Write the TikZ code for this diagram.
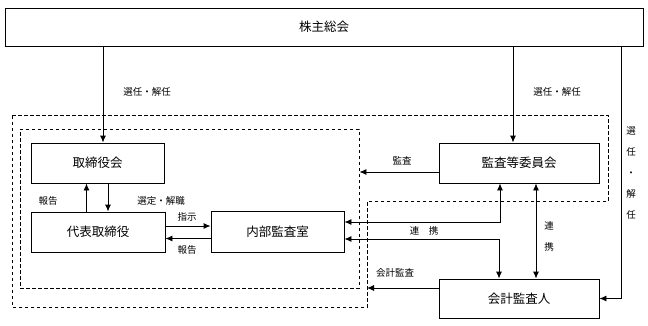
\documentclass[tikz,border=0pt]{standalone}
\usepackage{fontspec}
\setmainfont{Noto Sans CJK JP}
\usetikzlibrary{arrows.meta}
\begin{document}
\begin{tikzpicture}[x=1pt,y=-1pt,
  box/.style={draw,line width=0.9pt,inner sep=0pt,font=\fontsize{12.5}{14}\selectfont},
  lbl/.style={inner sep=0pt,font=\fontsize{9.5}{11}\selectfont},
  vlbl/.style={inner sep=0pt,align=center,font=\fontsize{9.5}{21}\selectfont},
  dashline/.style={draw,line width=0.9pt,dash pattern=on 3.5pt off 2.5pt},
  conn/.style={line width=0.9pt},
  arr/.style={conn,-{Latex[length=7pt,width=6pt]}},
  darr/.style={conn,{Latex[length=7pt,width=6pt]}-{Latex[length=7pt,width=6pt]}}]
\useasboundingbox (0,0) rectangle (648,325);
% dashed regions
\coordinate (o1) at (12,115);
\coordinate (o2) at (608,115);
\coordinate (o3) at (608,201);
\coordinate (ostep) at (367,201);
\coordinate (o5) at (367,307);
\coordinate (o6) at (12,307);
\draw[dashline] (o1) -- (o2) -- (o3) -- (ostep) -- (o5) -- (o6) -- cycle;
\node[dashline,minimum width=339pt,minimum height=159pt,inner sep=0pt] (inner) at (189.5,208.5) {};
% boxes
\node[box,minimum width=638pt,minimum height=38pt] (kabu) at (324,27) {株主総会};
\node[box,minimum width=133pt,minimum height=40pt] (tori) at (97.5,163) {取締役会};
\node[box,minimum width=134pt,minimum height=40pt] (daihyo) at (98,232) {代表取締役};
\node[box,minimum width=133pt,minimum height=41pt] (naibu) at (277.5,231.5) {内部監査室};
\node[box,minimum width=160pt,minimum height=40pt] (kansa) at (519,163) {監査等委員会};
\node[box,minimum width=160pt,minimum height=39pt] (kaikei) at (519,298.5) {会計監査人};
% helper x positions
\coordinate (xl) at (103,0);
\coordinate (xm) at (513,0);
\coordinate (xr) at (621,0);
% connectors
\draw[arr] (kabu.south -| xl) -- (tori.north -| xl);
\draw[arr] (kabu.south -| xm) -- (kansa.north -| xm);
\draw[arr] (kabu.south -| xr) |- (kaikei.east);
\draw[arr] ([xshift=-11.5pt]daihyo.north) -- ([xshift=-11.5pt]daihyo.north |- tori.south);
\draw[arr] ([xshift=10.5pt]tori.south) -- ([xshift=10.5pt]tori.south |- daihyo.north);
\draw[arr] ([yshift=6pt]daihyo.east) -- ([yshift=6pt]daihyo.east -| naibu.west);
\draw[arr] ([yshift=-7pt]naibu.west) -- ([yshift=-7pt]naibu.west -| daihyo.east);
\draw[arr] ([yshift=-9pt]kansa.west) -- ([yshift=-9pt]kansa.west -| inner.east);
\draw[darr] ([yshift=9.5pt]naibu.east) -| ([xshift=-19pt]kansa.south);
\draw[darr] ([yshift=-7.5pt]naibu.east) -| ([xshift=-20pt]kaikei.north);
\draw[darr] ([xshift=17pt]kansa.south) -- ([xshift=17pt]kaikei.north);
\draw[arr] ([yshift=10.5pt]kaikei.west) -- ([yshift=10.5pt]kaikei.west -| ostep);
% labels
\node[lbl] (l1) at (147,92) {選任・解任};
\node[lbl] (l2) at (557,92) {選任・解任};
\node[vlbl] (l3) at (631,173) {選\\任\\・\\解\\任};
\node[lbl] (l4) at (48,201) {報告};
\node[lbl] (l5) at (161,201) {選定・解職};
\node[lbl] (l6) at (187,217) {指示};
\node[lbl] (l7) at (187,250) {報告};
\node[lbl] (l8) at (402,161) {監査};
\node[lbl] (l9) at (424,231) {連\hspace{1em}携};
\node[lbl] (l10) at (395,273) {会計監査};
\node[vlbl] (l11) at (549,236.5) {連\\携};
\end{tikzpicture}
\end{document}
